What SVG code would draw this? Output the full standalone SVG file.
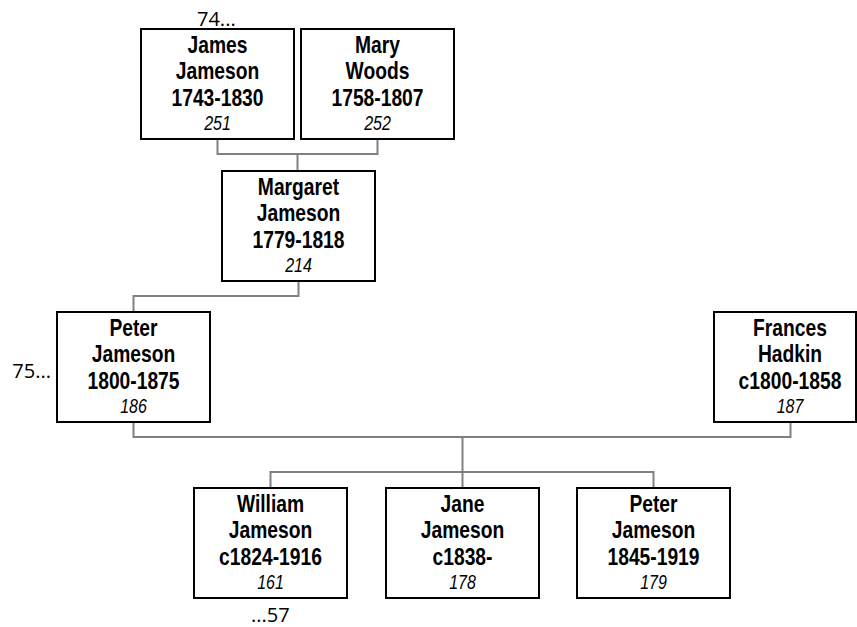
<svg xmlns="http://www.w3.org/2000/svg" width="857" height="627" viewBox="0 0 857 627">
<style>
.box{fill:#fff;stroke:#000;stroke-width:2}
.con{fill:none;stroke:#808080;stroke-width:2}
.n{font-family:"Liberation Sans",Arial,sans-serif;font-weight:bold;font-size:23.5px;text-anchor:middle;fill:#000}
.id{font-family:"Liberation Sans",Arial,sans-serif;font-style:italic;font-size:19.5px;text-anchor:middle;fill:#000}
.lbl{font-family:"Open Sans","Liberation Sans",sans-serif;font-size:20px;fill:#000}
</style>
<rect width="857" height="627" fill="#fff"/>
<g id="connectors">
<path class="con" d="M217.5,139 V154 H377.5 V139"/>
<path class="con" d="M297.5,154 V171"/>
<path class="con" d="M298.5,280 V296 H133.5 V312"/>
<path class="con" d="M133.5,422 V437 H790.5 V422"/>
<path class="con" d="M462.5,437 V488"/>
<path class="con" d="M270.5,488 V472 H653.5 V488"/>
</g>
<g id="james">
<rect class="box" x="141" y="29" width="153" height="110"/>
<g transform="translate(217.5,0) scale(0.82,1)">
<text class="n" x="0" y="53">James</text>
<text class="n" x="0" y="79">Jameson</text>
<text class="n" x="0" y="106">1743-1830</text>
<text class="id" x="0" y="130">251</text>
</g>
</g>
<g id="mary">
<rect class="box" x="301" y="29" width="153" height="110"/>
<g transform="translate(377.5,0) scale(0.82,1)">
<text class="n" x="0" y="53">Mary</text>
<text class="n" x="0" y="79">Woods</text>
<text class="n" x="0" y="106">1758-1807</text>
<text class="id" x="0" y="130">252</text>
</g>
</g>
<g id="margaret">
<rect class="box" x="222" y="171" width="153" height="110"/>
<g transform="translate(298.5,0) scale(0.82,1)">
<text class="n" x="0" y="195">Margaret</text>
<text class="n" x="0" y="221">Jameson</text>
<text class="n" x="0" y="248">1779-1818</text>
<text class="id" x="0" y="272">214</text>
</g>
</g>
<g id="peter1800">
<rect class="box" x="57" y="312" width="153" height="110"/>
<g transform="translate(133.5,0) scale(0.82,1)">
<text class="n" x="0" y="336">Peter</text>
<text class="n" x="0" y="362">Jameson</text>
<text class="n" x="0" y="389">1800-1875</text>
<text class="id" x="0" y="413">186</text>
</g>
</g>
<g id="frances">
<rect class="box" x="714" y="312" width="142" height="110"/>
<g transform="translate(790,0) scale(0.82,1)">
<text class="n" x="0" y="336">Frances</text>
<text class="n" x="0" y="362">Hadkin</text>
<text class="n" x="0" y="389">c1800-1858</text>
<text class="id" x="0" y="413">187</text>
</g>
</g>
<g id="william">
<rect class="box" x="194" y="488" width="153" height="110"/>
<g transform="translate(270.5,0) scale(0.82,1)">
<text class="n" x="0" y="512">William</text>
<text class="n" x="0" y="538">Jameson</text>
<text class="n" x="0" y="565">c1824-1916</text>
<text class="id" x="0" y="589">161</text>
</g>
</g>
<g id="jane">
<rect class="box" x="386" y="488" width="153" height="110"/>
<g transform="translate(462.5,0) scale(0.82,1)">
<text class="n" x="0" y="512">Jane</text>
<text class="n" x="0" y="538">Jameson</text>
<text class="n" x="0" y="565">c1838-</text>
<text class="id" x="0" y="589">178</text>
</g>
</g>
<g id="peter1845">
<rect class="box" x="577" y="488" width="153" height="110"/>
<g transform="translate(653.5,0) scale(0.82,1)">
<text class="n" x="0" y="512">Peter</text>
<text class="n" x="0" y="538">Jameson</text>
<text class="n" x="0" y="565">1845-1919</text>
<text class="id" x="0" y="589">179</text>
</g>
</g>
<g id="labels">
<text class="lbl" x="197" y="26">74...</text>
<text class="lbl" x="51" y="378" text-anchor="end">75...</text>
<text class="lbl" x="251" y="622">...57</text>
</g>
</svg>
